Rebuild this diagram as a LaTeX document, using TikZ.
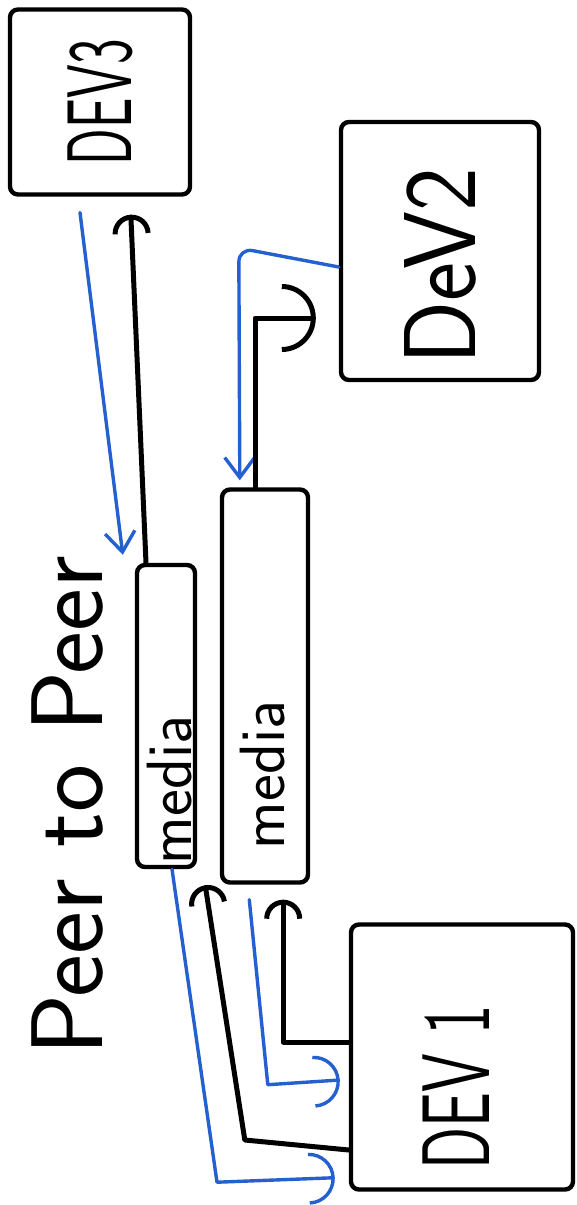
\documentclass[tikz,border=0pt]{standalone}
\usepackage{tikz}
\usepackage{graphicx}
\usetikzlibrary{arrows.meta}
\definecolor{inkblue}{RGB}{36,96,206}

\begin{document}
\begin{tikzpicture}[x=1pt,y=-1pt,
		box/.style={draw, line width=4.4pt, inner sep=0pt, rounded corners=8pt},
		hand/.style={inner sep=0pt, rotate=90},
		link/.style={line width=5pt, line cap=round, line join=round},
		blklink/.style={link, -{Arc Barb[length=19pt,width=38pt]}},
		blkhook/.style={link, -{Arc Barb[length=34pt,width=68pt]}},
		blulink/.style={link, inkblue, line width=3.4pt, -{Straight Barb[length=20pt,width=30pt]}},
		bluhook/.style={link, inkblue, line width=3.4pt, -{Arc Barb[length=26pt,width=52pt]}}]
				\useasboundingbox (0,0) rectangle (577,1205);
				\node[box, minimum width=180pt, minimum height=185pt] (dev3) at (100,102) {};
				\node[box, minimum width=198pt, minimum height=258pt] (dev2) at (440,251) {};
				\node[box, minimum width=222pt, minimum height=265pt] (dev1) at (462,1057) {};
				\node[box, minimum width=58pt, minimum height=302pt] (mediaA) at (166,716) {};
				\node[box, minimum width=86pt, minimum height=393pt] (mediaB) at (265,686) {};
				\node[hand, font=\fontsize{54}{54}\selectfont\sffamily] (dev3txt) at (dev3) {\scalebox{1}[1.7]{DEV3}};
				\node[hand, font=\fontsize{93}{93}\selectfont\sffamily] (dev2txt) at ([yshift=-15pt]dev2.center) {\scalebox{1}[1.1]{DeV2}};
				\node[hand, font=\fontsize{62}{62}\selectfont\sffamily] (dev1txt) at ([xshift=-6pt,yshift=-30pt]dev1.center) {\scalebox{1}[1.55]{DEV 1}};
				\node[hand, font=\fontsize{64}{64}\selectfont\sffamily] (mediaAtxt) at ([xshift=4pt,yshift=-74pt]mediaA.center) {media};
				\node[hand, font=\fontsize{64}{64}\selectfont\sffamily] (mediaBtxt) at ([xshift=-2pt,yshift=-89pt]mediaB.center) {media};
				\node[hand, font=\fontsize{102}{102}\selectfont\sffamily] (title) at (68,806) {Peer to Peer};
				\draw[blulink, shorten <=16pt] ([xshift=-22pt]dev3.south) -- ([xshift=-12pt,yshift=8pt]mediaA.north west);
				\draw[blklink, shorten >=18pt] ([xshift=-20pt]mediaA.north) -- ([xshift=30pt]dev3.south);
				\draw[blulink, rounded corners=14pt] ([yshift=-16pt]dev2.west) -- ++(-100pt,19pt) -- ([xshift=20pt,yshift=7pt]mediaB.north west);
				\draw[blkhook] ([xshift=-10pt]mediaB.north) |- ([xshift=-23pt,yshift=-67pt]dev2.west);
				\draw[bluhook] ([xshift=6pt]mediaA.south) -- ++(45pt,-313pt) -- ([xshift=-14pt,yshift=14pt]dev1.south west);
				\draw[blklink] ([yshift=-93pt]dev1.west) -- ++(-104pt,10pt) -- ([xshift=8pt,yshift=-16pt]mediaA.south east);
				\draw[bluhook, shorten <=15pt] ([xshift=28pt]mediaB.south west) -- ++(20pt,-200pt) -- ([xshift=-9pt,yshift=-23pt]dev1.west);
				\draw[blklink] ([yshift=15pt]dev1.west) -| ([xshift=-27pt,yshift=-15pt]mediaB.south east);
			\end{tikzpicture}
\end{document}
